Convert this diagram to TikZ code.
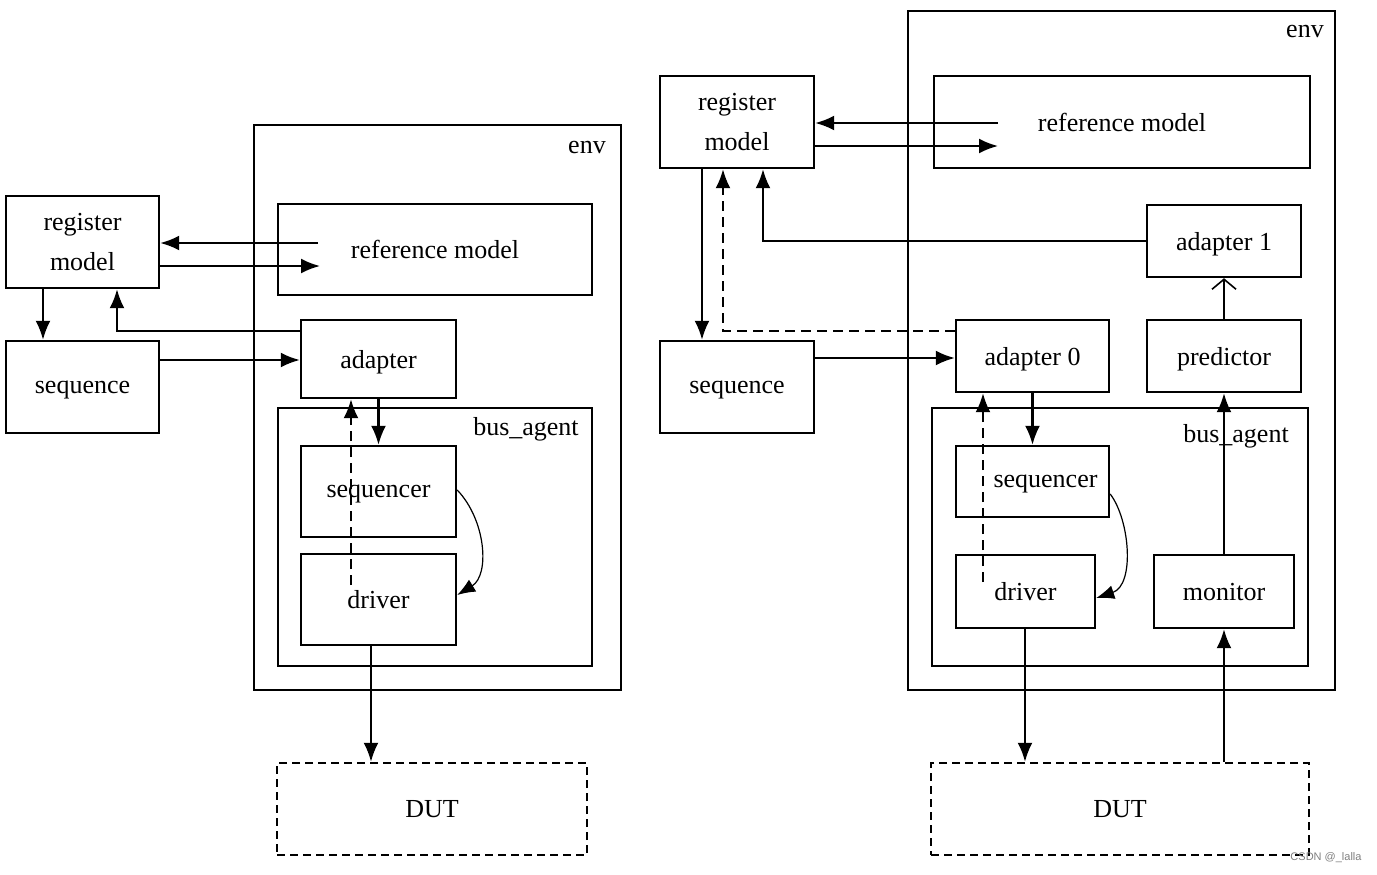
\documentclass[tikz,border=0pt]{standalone}
\usepackage{fontspec}
\setmainfont{Liberation Serif}
\newfontfamily\wmfont{Liberation Sans}
\usetikzlibrary{arrows.meta}
\tikzset{
  box/.style={draw, line width=1.2pt, inner sep=0pt, align=center, text depth=-1pt},
  dutbox/.style={draw, line width=1.2pt, inner sep=0pt, text depth=-1pt, dash pattern=on 4pt off 2.5pt},
  arr/.style={line width=1.1pt, -{Latex[length=9.5pt,width=7.5pt]}},
  dasharr/.style={arr, dash pattern=on 5pt off 3pt},
  openarr/.style={line width=1.1pt, -{Straight Barb[length=5pt,width=12pt,line width=0.8pt]}},
  curvearr/.style={line width=0.6pt, -{Latex[length=9pt,width=7pt]}},
  lbl/.style={inner sep=0pt},
}
\begin{document}
\begin{tikzpicture}[x=0.5pt,y=-0.5pt, font=\fontsize{13}{20}\selectfont]
\path[use as bounding box] (0,0) rectangle (1377,874);

% ---------------- left diagram ----------------
\node[box, minimum width=183.5pt, minimum height=282.5pt] (envL) at (437.5,407.5) {};
\node[lbl] (envLl) at (587,147) {env};
\node[box, minimum width=76.5pt, minimum height=46pt] (regL) at (82.5,242) {register\\model};
\node[box, minimum width=157pt, minimum height=45.5pt] (refL) at (435,249.5) {reference model};
\node[box, minimum width=76.5pt, minimum height=46pt] (seqL) at (82.5,387) {sequence};
\node[box, minimum width=77.5pt, minimum height=39pt] (adL) at (378.5,359) {adapter};
\node[box, minimum width=157pt, minimum height=129pt] (busL) at (435,537) {};
\node[lbl] (busLl) at (526,429) {bus\_agent};
\node[box, minimum width=77.5pt, minimum height=45.5pt] (sqrL) at (378.5,491.5) {sequencer};
\node[box, minimum width=77.5pt, minimum height=45.5pt] (drvL) at (378.5,599.5) {driver};
\node[dutbox, minimum width=155pt, minimum height=46pt] (dutL) at (432,809) {DUT};

\coordinate (refLa) at (318,243);
\coordinate (refLb) at (320,266);
\coordinate (drvLd) at (351,585);

\draw[arr] (refLa) -- (regL.east |- refLa);
\draw[arr] (regL.east |- refLb) -- (refLb);
\draw[arr] (regL.south -| 43,0) -- (seqL.north -| 43,0);
\draw[arr] (adL.west |- 0,331) -| (regL.south -| 117,0);
\draw[arr] (seqL.east |- 0,360) -- (adL.west |- 0,360);
\draw[arr] (adL.south) -- (sqrL.north);
\draw[dasharr] (drvLd) -- (adL.south -| drvLd);
\draw[curvearr] (sqrL.east |- 0,490) .. controls (486,520) and (490,575) .. (drvL.east |- 0,595);
\draw[arr] (drvL.south -| 371,0) -- (dutL.north -| 371,0);

% ---------------- right diagram ----------------
\node[box, minimum width=213.5pt, minimum height=339.5pt] (envR) at (1121.5,350.5) {};
\node[lbl] (envRl) at (1305,31) {env};
\node[box, minimum width=77pt, minimum height=46pt] (regR) at (737,122) {register\\model};
\node[box, minimum width=188pt, minimum height=46pt] (refR) at (1122,122) {reference model};
\node[box, minimum width=77pt, minimum height=36pt] (ad1) at (1224,241) {adapter 1};
\node[box, minimum width=77pt, minimum height=46pt] (seqR) at (737,387) {sequence};
\node[box, minimum width=76.5pt, minimum height=36pt] (ad0) at (1032.5,356) {adapter 0};
\node[box, minimum width=77pt, minimum height=36pt] (pred) at (1224,356) {predictor};
\node[box, minimum width=188pt, minimum height=129pt] (busR) at (1120,537) {};
\node[lbl] (busRl) at (1236,436) {bus\_agent};
\node[box, minimum width=76.5pt, minimum height=35.5pt] (sqrR) at (1032.5,481.5) {\hspace*{13pt}sequencer};
\node[box, minimum width=69.5pt, minimum height=36.5pt] (drvR) at (1025.5,591.5) {driver};
\node[box, minimum width=70pt, minimum height=36.5pt] (mon) at (1224,591.5) {monitor};
\node[dutbox, minimum width=189pt, minimum height=46pt] (dutR) at (1120,809) {DUT};

\coordinate (refRa) at (998,123);
\coordinate (refRb) at (998,146);
\coordinate (drvRd) at (983,582);

\draw[arr] (refRa) -- (regR.east |- refRa);
\draw[arr] (regR.east |- refRb) -- (refRb);
\draw[arr] (ad1.west) -| (regR.south -| 763,0);
\draw[arr] (regR.south -| 702,0) -- (seqR.north -| 702,0);
\draw[dasharr] (ad0.west |- 0,331) -| (regR.south -| 723,0);
\draw[arr] (seqR.east |- 0,358) -- (ad0.west |- 0,358);
\draw[openarr] (pred.north) -- (ad1.south);
\draw[arr] (ad0.south) -- (sqrR.north);
\draw[dasharr] (drvRd) -- (ad0.south -| drvRd);
\draw[curvearr] (sqrR.east |- 0,494) .. controls (1130,520) and (1135,585) .. (drvR.east |- 0,598);
\draw[arr] (mon.north) -- (pred.south);
\draw[arr] (drvR.south -| 1025,0) -- (dutR.north -| 1025,0);
\draw[arr] (dutR.north -| mon.south) -- (mon.south);

% watermark
\node[inner sep=0pt, text=gray, font=\wmfont\fontsize{5.5}{6}\selectfont] (wm) at (1326,858) {CSDN @\_lalla};
\end{tikzpicture}
\end{document}
